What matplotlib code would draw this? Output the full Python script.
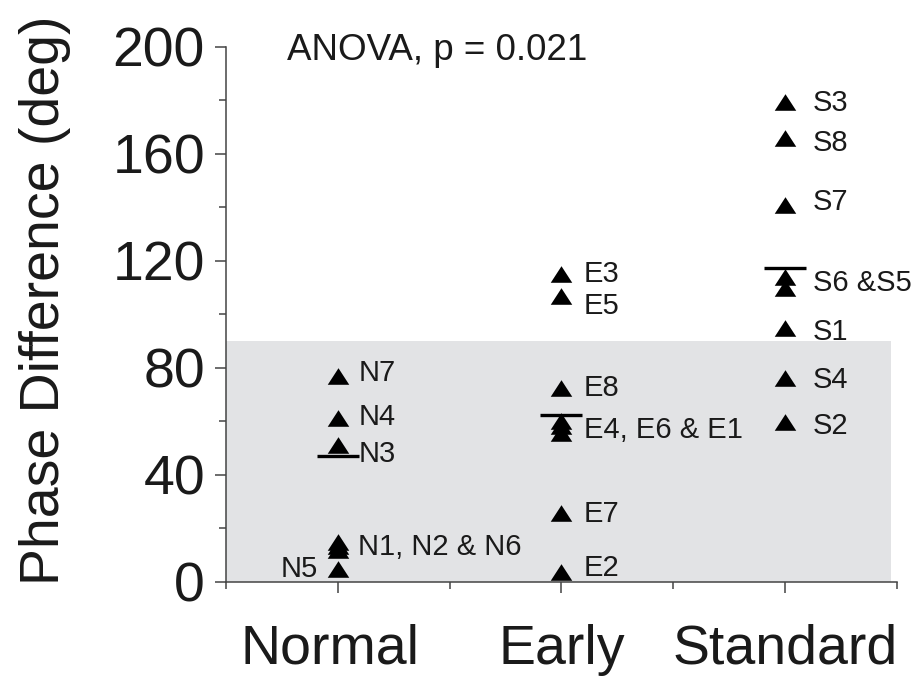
import matplotlib
matplotlib.use("Agg")
import matplotlib.pyplot as plt
import matplotlib.transforms as mtransforms
import numpy as np

plt.rcParams['font.family'] = ['Liberation Sans', 'DejaVu Sans']

# ---- data ----
categories = ["Normal", "Early", "Standard"]
positions = [1, 2, 3]
normal_vals = [77.1, 61.1, 51.2, 15.1, 13.6, 12.1, 4.7]
early_vals = [115.0, 107.0, 72.4, 60.3, 58.1, 55.8, 25.6, 3.9]
standard_vals = [179.3, 165.9, 140.8, 113.9, 109.8, 94.9, 76.2, 59.8]
group_means = [47.2, 62.4, 117.3]
shade_top = 90

normal_labels = ["N7", "N4", "N3", "N1, N2 & N6", "N5"]
normal_label_y = [78, 61.5, 47.8, 12.9, 5.0]
early_labels = ["E3", "E5", "E8", "E4, E6 & E1", "E7", "E2"]
early_label_y = [115, 103, 72.5, 56.8, 25.4, 5.4]
standard_labels = ["S3", "S8", "S7", "S6 &S5", "S1", "S4", "S2"]
standard_label_y = [179, 164, 142, 111.7, 93.4, 75.5, 58.3]

y_ticks = [0, 40, 80, 120, 160, 200]
annotation = "ANOVA, p = 0.021"
ylabel = "Phase Difference (deg)"

# ---- figure ----
fig = plt.figure(figsize=(9.21, 6.79), dpi=100)
ax = fig.add_axes([0.2451, 0.1429, 0.9740 - 0.2451, 0.9312 - 0.1429])
ax.set_xlim(0.5, 3.5)
ax.set_ylim(0, 200)

ax.fill_between([0.5, 3.475], 0, shade_top, color='#e2e3e5', lw=0, zorder=0)

tri = [(-1, -0.77), (1, -0.77), (0, 0.77)]
for pos, vals in zip(positions, [normal_vals, early_vals, standard_vals]):
    ax.plot([pos] * len(vals), vals, linestyle='none', marker=tri,
            markersize=15.5, color='black', markeredgewidth=0, zorder=3)

ax.hlines(group_means, [p - 0.094 for p in positions],
          [p + 0.094 for p in positions], colors='black', lw=2.4, zorder=4)

lab_fs = 21
for lab, yy in zip(normal_labels, normal_label_y):
    if lab == "N5":
        ax.annotate(lab, (1, yy), xytext=(-14, 0), textcoords='offset points',
                    ha='right', va='center', fontsize=lab_fs, color='#1a1a1a')
    else:
        ax.annotate(lab, (1, yy), xytext=(15, 0), textcoords='offset points',
                    ha='left', va='center', fontsize=lab_fs, color='#1a1a1a')
for lab, yy in zip(early_labels, early_label_y):
    ax.annotate(lab, (2, yy), xytext=(16, 0), textcoords='offset points',
                ha='left', va='center', fontsize=lab_fs, color='#1a1a1a')
for lab, yy in zip(standard_labels, standard_label_y):
    ax.annotate(lab, (3, yy), xytext=(20, 0), textcoords='offset points',
                ha='left', va='center', fontsize=lab_fs, color='#1a1a1a')

ax.text(0.0913, 0.992, annotation, transform=ax.transAxes, ha='left',
        va='center', fontsize=26.5, color='#1a1a1a')

# axes styling
for s in ['top', 'right']:
    ax.spines[s].set_visible(False)
for s in ['left', 'bottom']:
    ax.spines[s].set_color('#444444')
    ax.spines[s].set_linewidth(1.1)

ax.set_yticks(y_ticks)
ax.set_yticks([20, 60, 100, 140, 180], minor=True)
ax.set_xticks(positions)
ax.set_xticklabels(categories)
ax.set_xticks([0.5, 1.5, 2.5, 3.5], minor=True)
ax.tick_params(axis='both', which='major', length=8, width=1.1, color='#444444',
               labelsize=40, labelcolor='#1a1a1a', direction='out')
ax.tick_params(axis='both', which='minor', length=5, width=1.1, color='#444444',
               direction='out')
ax.tick_params(axis='y', which='major', pad=7)
ax.tick_params(axis='x', which='major', pad=22)

off = mtransforms.ScaledTranslation(-8 / 100, 0, fig.dpi_scale_trans)
lbl = ax.get_xticklabels()[0]
lbl.set_transform(lbl.get_transform() + off)

fig.text(45 / 921, 1 - 300 / 679, ylabel, rotation=90, ha='center', va='center',
         fontsize=40, color='#1a1a1a')

fig.savefig("out.png", dpi=100, facecolor='white')
